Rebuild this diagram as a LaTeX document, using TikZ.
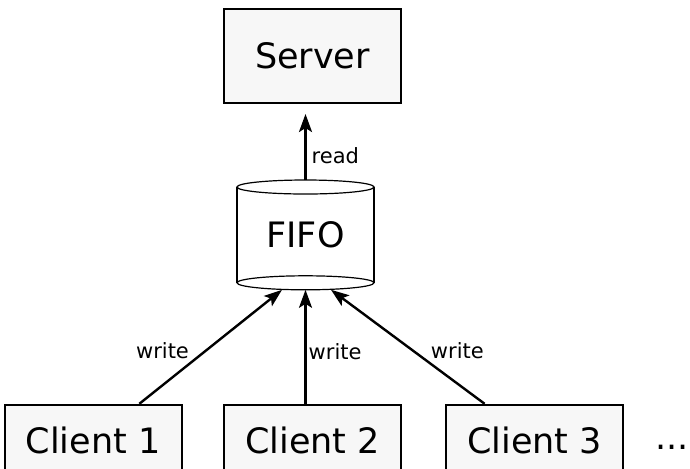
\documentclass[tikz,border=0pt]{standalone}
\usepackage{fontspec}
\setmainfont{DejaVu Sans}
\usepackage{tikz}
\usetikzlibrary{positioning,shapes,arrows.meta,calc}
\tikzstyle{box1} = [rectangle, draw, line width=1pt, fill=black!3, %
   text centered, font=\fontsize{17.5}{21}\selectfont]
\tikzstyle{tank} = [rectangle, minimum width=68.5pt, minimum height=54.5pt, %
   inner sep=0pt, text centered, font=\fontsize{17.5}{21}\selectfont]
\tikzstyle{lbl} = [inner sep=1pt, font=\fontsize{10.5}{12}\selectfont]
\tikzstyle{line} = [draw, line width=1.2pt, -{Stealth[length=9pt,width=6.5pt,inset=2pt]}]

\begin{document}
\begin{tikzpicture}
         \useasboundingbox (0,0) rectangle (345pt,-234pt);

      % SERVER AND FIFO %%%%%%%%%%%%%%%%%%%%%%%%%%%%%%%%%%%%%%%%%%%%%%%
         \node[box1, minimum width=88.5pt, minimum height=47pt](server)
            at (156.25pt,-28pt) {Server};

         \node[tank, below=38pt of server, xshift=-3.5pt](fifo){%
            \raisebox{-3.25pt}{FIFO}};
         \draw[line width=0.6pt] ([yshift=-3.5pt]fifo.north) ellipse [x radius=34.25pt, y radius=3.5pt];
         \draw[line width=0.6pt] ([yshift=3.5pt]fifo.south) ellipse [x radius=34.25pt, y radius=3.5pt];
         \draw[line width=1pt] ([yshift=-3.5pt]fifo.north west) -- ([yshift=3.5pt]fifo.south west);
         \draw[line width=1pt] ([yshift=-3.5pt]fifo.north east) -- ([yshift=3.5pt]fifo.south east);

      % CLIENTS %%%%%%%%%%%%%%%%%%%%%%%%%%%%%%%%%%%%%%%%%%%%%%%%%%%%%%%%
         \node[box1, minimum width=88.5pt, minimum height=36pt, below=57pt of fifo, xshift=3.5pt](client2){Client 2};
         \node[box1, minimum width=88.5pt, minimum height=36pt, left=20.25pt of client2](client1){Client 1};
         \node[box1, minimum width=88.5pt, minimum height=36pt, right=21.5pt of client2](client3){Client 3};
         \node[anchor=base west, xshift=15.5pt, yshift=2pt, inner sep=0pt, %
            font=\fontsize{17.5}{21}\selectfont](more) at (client3.base east){...};

         % Draw edges
         \path [line, shorten >=5pt] (fifo.north) -- (fifo.north |- server.south)
            node[lbl, pos=0.32, anchor=west, xshift=1.5pt]{read};
         \path [line] (client1) -- ([xshift=-11.75pt]fifo.south)
            node[lbl, pos=0.37, anchor=south east]{write};
         \path [line] (client2.north -| fifo.south) -- (fifo.south)
            node[lbl, pos=0.46, anchor=west]{write};
         \path [line] (client3) -- ([xshift=12.75pt]fifo.south)
            node[lbl, pos=0.37, anchor=south west]{write};

      \end{tikzpicture}
\end{document}
